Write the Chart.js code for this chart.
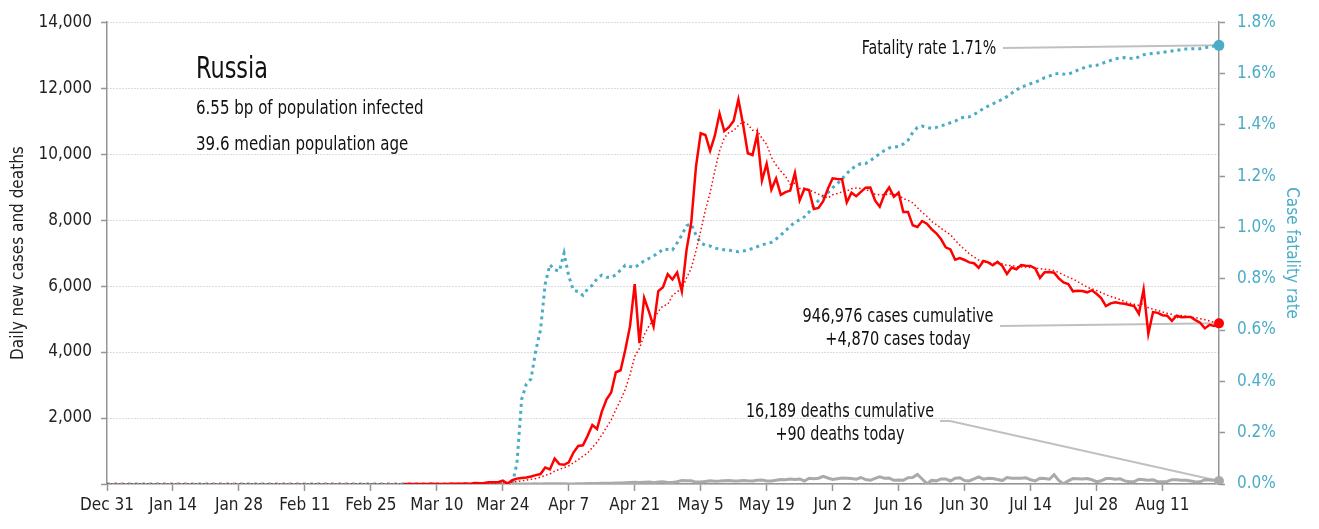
<!DOCTYPE html>
<html>
<head>
<meta charset="utf-8">
<script src="https://cdn.jsdelivr.net/npm/chart.js@4.4.0/dist/chart.umd.min.js"></script>
<style>
  html, body { margin: 0; background: #fff; }
  #wrap { width: 1319px; height: 529px; }
</style>
</head>
<body>
<div id="wrap"><canvas id="chart"></canvas></div>
<script>
// one label per day, Dec 31 .. Aug 23; axis shows every 14th
const MONTHS = ['Jan', 'Feb', 'Mar', 'Apr', 'May', 'Jun', 'Jul', 'Aug', 'Sep', 'Oct', 'Nov', 'Dec'];
const dayCount = 237;
const labels = [];
for (let i = 0; i < dayCount; i++) {
    const d = new Date(Date.UTC(2019, 11, 31 + i));
    labels.push(MONTHS[d.getUTCMonth()] + ' ' + d.getUTCDate());
}

// daily new cases, from Mar 3 on the axis
const casesFrom = 'Mar 3';
const cases = [
    0, 1, 0, 0, 1, 1, 6, 3, 0, 3, 8, 6, 11, 14, 4, 30, 21, 33, 52, 54, 53, 100, 10, 115, 163, 182, 196, 228, 270, 302, 501,
    440, 771, 601, 582, 658, 954, 1154, 1175, 1459, 1786, 1667, 2186, 2558, 2774, 3388, 3448, 4070, 4785, 6060, 4268,
    5642, 5236, 4774, 5849, 5966, 6361, 6198, 6411, 5841, 7099,
    7933, 9623, 10633, 10581, 10102, 10559, 11231, 10699, 10817, 11012, 11656, 10899, 10028, 9974, 10598, 9200,
    9709, 8926, 9263, 8764, 8849, 8894, 9434, 8599, 8946, 8915, 8338, 8371, 8572, 8952, 9268,
    9250, 9240, 8536, 8831, 8726, 8855, 8984, 8985, 8595, 8404, 8779, 8987, 8706, 8835, 8246, 8248, 7843, 7790,
    7972, 7889, 7728, 7600, 7425, 7176, 7113, 6800, 6852, 6791, 6719, 6693,
    6556, 6760, 6718, 6632, 6736, 6611, 6368, 6562, 6509, 6635, 6615, 6611, 6537, 6248, 6422, 6428, 6406, 6234,
    6109, 6065, 5842, 5862, 5848, 5811, 5871, 5765, 5635, 5395, 5475, 5509, 5482,
    5462, 5427, 5394, 5159, 5900, 4550, 5212, 5189, 5118, 5102, 4945, 5102, 5057, 5065, 5061, 4969, 4892, 4718,
    4828, 4790, 4870
];

// 7-day average of new cases, from Dec 31
const casesAvgFrom = 'Dec 31';
const casesAvg = [
    0, 0, 0, 0, 0, 0, 0, 0, 0, 0, 0, 0, 0, 0, 0, 0, 0, 0, 0, 0, 0, 0, 0, 0, 0, 0, 0, 0, 0, 0,
    0, 0, 0, 0, 0, 0, 0, 0, 0, 0, 0, 0, 0, 0, 0, 0, 0, 0, 0, 0, 0, 0, 0, 0, 0, 0, 0, 0, 0, 0,
    0, 0, 0, 0, 0, 0, 0, 0, 0,
    1, 2, 2, 2, 3, 4, 5, 6, 7, 11, 13, 17, 24, 30, 35, 49, 46, 60, 78, 97, 117, 142, 166, 208, 263,
    303, 387, 445, 495, 551, 644, 737, 842, 940, 1110, 1265, 1483, 1712, 1944, 2260, 2544, 2870, 3316, 3869, 4113,
    4523, 4787, 4976, 5231, 5399, 5442, 5718, 5828, 5914, 6246,
    6544, 7067, 7677, 8303, 8830, 9504, 10095, 10490, 10660, 10714, 10868, 10982, 10906, 10726, 10712, 10481,
    10295, 9905, 9671, 9491, 9330, 9086, 9120, 8961, 8964, 8914, 8854, 8785, 8739, 8670, 8766,
    8809, 8856, 8884, 8950, 8972, 8958, 8917, 8880, 8787, 8769, 8761, 8798, 8777, 8756, 8650, 8601, 8521, 8379,
    8234, 8118, 7959, 7867, 7750, 7654, 7558, 7390, 7242, 7108, 6982, 6878,
    6789, 6739, 6727, 6696, 6688, 6672, 6626, 6627, 6591, 6579, 6577, 6559, 6548, 6531, 6511, 6499, 6467, 6412,
    6341, 6273, 6215, 6135, 6052, 5967, 5915, 5866, 5805, 5741, 5686, 5637, 5590,
    5532, 5484, 5449, 5415, 5476, 5339, 5301, 5262, 5217, 5176, 5145, 5031, 5104, 5083, 5064, 5043, 5013, 4981,
    4941, 4903, 4875
];

// daily deaths, from Mar 24 on the axis
const deathsFrom = 'Mar 24';
const deaths = [
    0, 0, 1, 1, 1, 1, 0, 4, 1, 8,
    7, 6, 4, 9, 2, 2, 11, 5, 13, 18, 18, 22, 22, 24, 28, 30, 41, 48, 51, 48, 51, 57, 42, 60, 66, 47, 47, 72, 108, 101,
    96, 57, 58, 76, 95, 86, 88, 98, 104, 88, 94, 107, 96, 93, 113, 119, 94, 91, 115, 135, 127, 150, 139, 153, 92,
    174, 161, 174, 232, 181, 138,
    162, 182, 178, 169, 144, 197, 134, 112, 171, 216, 174, 181, 114, 119, 113, 193, 194, 290, 150, 10, 109, 95,
    153, 154, 92, 176, 188, 104, 93, 154,
    216, 147, 176, 168, 135, 104, 198, 173, 175, 174, 188, 130, 95, 175, 165, 144, 280, 110, 5, 95, 165, 160,
    154, 165, 129, 70, 96, 164, 169, 147, 161,
    95, 70, 70, 144, 129, 114, 129, 70, 70, 77, 130, 129, 117, 112, 94, 60, 68, 130, 122, 114, 90
];

// case fatality rate in %, from Dec 31
const fatalityFrom = 'Dec 31';
const fatality = [
    0, 0, 0, 0, 0, 0, 0, 0, 0, 0, 0, 0, 0, 0, 0, 0, 0, 0, 0, 0, 0, 0, 0, 0, 0, 0, 0, 0, 0, 0,
    0, 0, 0, 0, 0, 0, 0, 0, 0, 0, 0, 0, 0, 0, 0, 0, 0, 0, 0, 0, 0, 0, 0, 0, 0, 0, 0, 0, 0, 0,
    0, 0, 0, 0, 0, 0, 0, 0, 0, 0, 0, 0, 0, 0, 0, 0, 0, 0, 0, 0, 0, 0, 0, 0, 0, 0, 0,
    0.08, 0.33, 0.39, 0.41, 0.52, 0.60, 0.78,
    0.855, 0.835, 0.83, 0.90, 0.81, 0.755, 0.75, 0.735, 0.76, 0.775, 0.80, 0.814, 0.806, 0.806, 0.815, 0.834,
    0.853, 0.848, 0.844, 0.856, 0.87, 0.879, 0.889, 0.90, 0.916, 0.914, 0.912, 0.94, 0.97, 1.007,
    1.013, 0.97, 0.94, 0.93, 0.928, 0.92, 0.915, 0.913, 0.912, 0.907, 0.905, 0.908, 0.912, 0.918, 0.925, 0.932,
    0.937, 0.942, 0.955, 0.97, 0.987, 1.005, 1.02, 1.03, 1.041, 1.06, 1.085, 1.105, 1.12, 1.136, 1.155,
    1.17, 1.19, 1.21, 1.228, 1.24, 1.249, 1.249, 1.26, 1.275, 1.287, 1.30, 1.31, 1.313, 1.316, 1.325, 1.34,
    1.37, 1.39, 1.395, 1.39, 1.386, 1.39, 1.396, 1.401, 1.408, 1.414, 1.425, 1.43, 1.431, 1.44,
    1.452, 1.463, 1.473, 1.482, 1.49, 1.5, 1.51, 1.523, 1.536, 1.547, 1.553, 1.56, 1.566, 1.574, 1.584, 1.59,
    1.598, 1.6, 1.598, 1.597, 1.605, 1.613, 1.62, 1.627, 1.63, 1.632, 1.638, 1.645, 1.651, 1.657, 1.66,
    1.662, 1.66, 1.658, 1.665, 1.673, 1.676, 1.678, 1.68, 1.682, 1.685, 1.688, 1.69, 1.693, 1.696, 1.696,
    1.697, 1.697, 1.70, 1.704, 1.707, 1.71
];

const yTicks = [0, 2000, 4000, 6000, 8000, 10000, 12000, 14000];
const rateTicks = [0, 0.2, 0.4, 0.6, 0.8, 1.0, 1.2, 1.4, 1.6, 1.8];

const RED = '#ff0000';
const TEAL = '#4bacc6';
const GREY = '#aaaaaa';
const AXIS = '#959595';
const INK = '#222222';
const FONT = '"Liberation Sans Narrow", "DejaVu Sans Condensed", "Roboto Condensed", sans-serif';

function series(values, from) {
    const start = labels.indexOf(from);
    return values.map((v, i) => ({ x: labels[start + i], y: v }));
}

const lastOnly = (r) => (ctx) => ctx.dataIndex === ctx.dataset.data.length - 1 ? r : 0;

// the source face is a narrow grotesque, so squeeze the note text sideways
function narrowText(ctx, text, x, y, squeeze, align) {
    ctx.save();
    ctx.translate(x, y);
    ctx.scale(squeeze, 1);
    ctx.textAlign = align;
    ctx.fillText(text, 0, 0);
    ctx.restore();
}

// leader lines under the marks, text on top
const notes = {
    id: 'notes',
    beforeDatasetsDraw(chart) {
        const { ctx, scales } = chart;
        const endX = scales.x.getPixelForValue(labels.length - 1);
        ctx.save();
        ctx.strokeStyle = '#c0c0c0';
        ctx.lineWidth = 2;
        const poly = (pts) => {
            ctx.beginPath();
            pts.forEach((p, i) => i ? ctx.lineTo(p[0], p[1]) : ctx.moveTo(p[0], p[1]));
            ctx.stroke();
        };
        poly([[1003, 48], [endX, scales.y2.getPixelForValue(fatality[fatality.length - 1])]]);
        poly([[1000, 326], [endX, scales.y.getPixelForValue(cases[cases.length - 1])]]);
        poly([[940, 421], [950, 421], [endX, scales.y.getPixelForValue(deaths[deaths.length - 1])]]);
        ctx.restore();
    },
    afterDatasetsDraw(chart) {
        const { ctx } = chart;
        ctx.save();
        ctx.fillStyle = '#111';
        ctx.textBaseline = 'alphabetic';
        ctx.font = '30px ' + FONT;
        narrowText(ctx, 'Russia', 196, 78, 0.83, 'left');
        ctx.font = '19px ' + FONT;
        narrowText(ctx, '6.55 bp of population infected', 196, 114, 0.88, 'left');
        narrowText(ctx, '39.6 median population age', 196, 150, 0.88, 'left');

        narrowText(ctx, 'Fatality rate 1.71%', 929, 54, 0.83, 'center');
        narrowText(ctx, '946,976 cases cumulative', 898, 322, 0.85, 'center');
        narrowText(ctx, '+4,870 cases today', 898, 345, 0.85, 'center');
        narrowText(ctx, '16,189 deaths cumulative', 840, 417, 0.84, 'center');
        narrowText(ctx, '+90 deaths today', 840, 440, 0.84, 'center');
        ctx.restore();
    }
};

new Chart(document.getElementById('chart'), {
    type: 'line',
    data: {
        labels: labels,
        datasets: [
            {
                label: 'New cases',
                data: series(cases, casesFrom),
                yAxisID: 'y',
                borderColor: RED,
                backgroundColor: RED,
                borderWidth: 2.5,
                pointRadius: lastOnly(5),
                pointBorderWidth: 0,
                tension: 0
            },
            {
                label: '7-day average',
                data: series(casesAvg, casesAvgFrom),
                yAxisID: 'y',
                borderColor: RED,
                borderWidth: 1.5,
                borderDash: [1.5, 2.5],
                pointRadius: 0,
                tension: 0
            },
            {
                label: 'Deaths',
                data: series(deaths, deathsFrom),
                yAxisID: 'y',
                borderColor: GREY,
                backgroundColor: GREY,
                borderWidth: 3,
                pointRadius: lastOnly(5),
                pointBorderWidth: 0,
                tension: 0
            },
            {
                label: 'Case fatality rate',
                data: series(fatality, fatalityFrom),
                yAxisID: 'y2',
                borderColor: TEAL,
                backgroundColor: TEAL,
                borderWidth: 3,
                borderDash: [3, 4],
                pointRadius: lastOnly(5.5),
                pointBorderWidth: 0,
                tension: 0
            }
        ]
    },
    options: {
        responsive: true,
        maintainAspectRatio: false,
        animation: false,
        layout: { padding: { top: 22, left: 0, right: 0, bottom: 0 } },
        plugins: {
            legend: { display: false },
            tooltip: { enabled: false }
        },
        scales: {
            x: {
                type: 'category',
                offset: false,
                afterBuildTicks: (axis) => {
                    axis.ticks = axis.ticks.filter(t => t.value % 14 === 0);
                },
                afterFit: (axis) => { axis.height = 45; },
                grid: { drawOnChartArea: false, drawTicks: true, tickLength: 7, tickColor: AXIS, tickWidth: 1.5 },
                border: { color: AXIS, width: 1.5 },
                ticks: {
                    autoSkip: false,
                    maxRotation: 0,
                    padding: 4,
                    color: INK,
                    font: { family: FONT, size: 17 }
                }
            },
            y: {
                position: 'left',
                min: yTicks[0],
                max: yTicks[yTicks.length - 1],
                afterBuildTicks: (axis) => { axis.ticks = yTicks.map(v => ({ value: v })); },
                afterFit: (axis) => { axis.width = 107; },
                grid: { color: '#b8b8b8', lineWidth: 1, tickColor: AXIS, tickLength: 6, tickWidth: 1.5 },
                border: { color: AXIS, width: 1.5, dash: [1, 2] },
                ticks: {
                    padding: 9,
                    color: INK,
                    font: { family: FONT, size: 17 },
                    callback: (v) => v === 0 ? '' : v.toLocaleString('en-US')
                },
                title: {
                    display: true,
                    text: 'Daily new cases and deaths',
                    color: INK,
                    font: { family: FONT, size: 17 },
                    padding: { top: 8, bottom: 0 }
                }
            },
            y2: {
                position: 'right',
                min: rateTicks[0],
                max: rateTicks[rateTicks.length - 1],
                afterBuildTicks: (axis) => { axis.ticks = rateTicks.map(v => ({ value: v })); },
                afterFit: (axis) => { axis.width = 100; },
                grid: { drawOnChartArea: false, tickColor: AXIS, tickLength: 6, tickWidth: 1.5 },
                border: { color: AXIS, width: 1.5 },
                ticks: {
                    padding: 12,
                    color: TEAL,
                    font: { family: FONT, size: 17 },
                    callback: (v) => v.toFixed(1) + '%'
                },
                title: {
                    display: true,
                    text: 'Case fatality rate',
                    color: TEAL,
                    font: { family: FONT, size: 17 },
                    padding: { top: 17, bottom: 0 }
                }
            }
        }
    },
    plugins: [notes]
});
</script>
</body>
</html>
